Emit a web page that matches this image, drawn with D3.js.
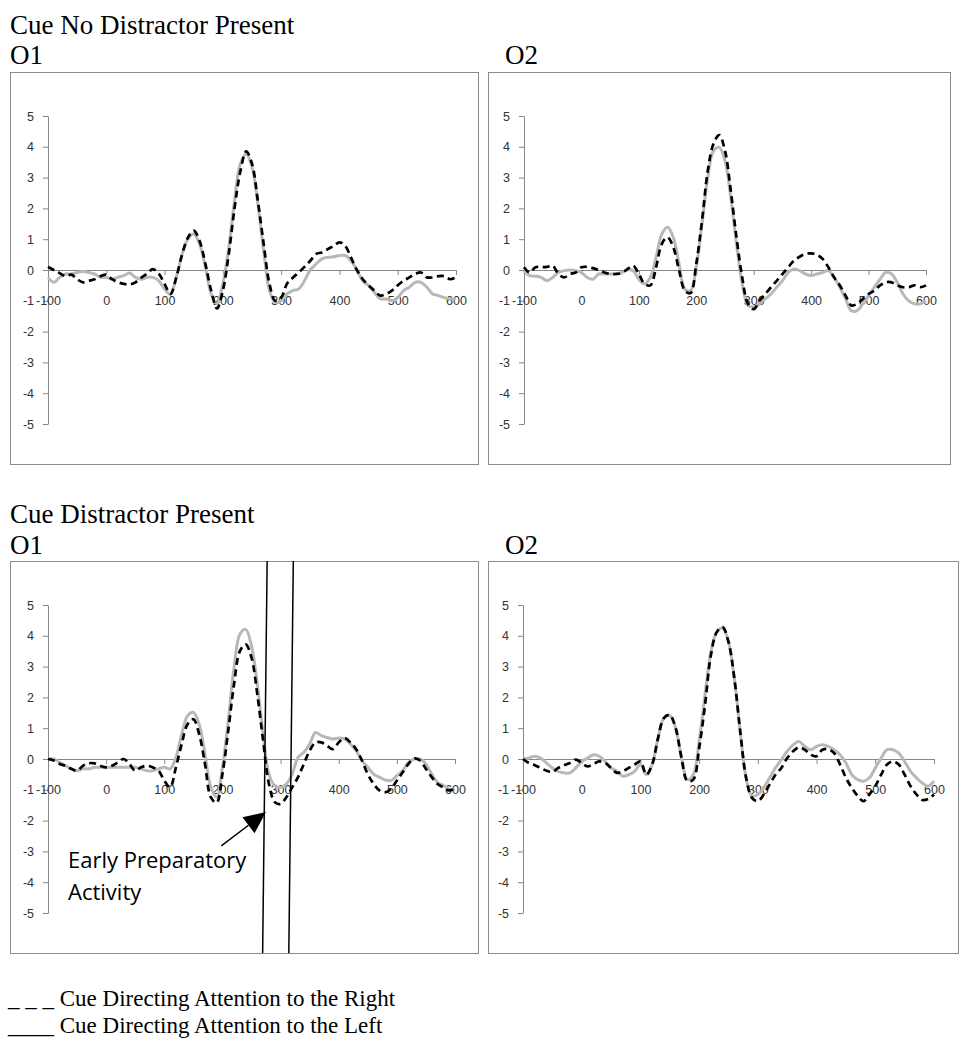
<!DOCTYPE html>
<html>
<head>
<meta charset="utf-8">
<script src="https://cdn.jsdelivr.net/npm/d3@7"></script>
<style>
  html, body { margin: 0; padding: 0; background: #fff; }
  svg { display: block; }
</style>
</head>
<body>
<svg id="chart" width="971" height="1050"></svg>
<script>
// ---------------- DATA ----------------
const times = [-100,-90,-80,-70,-60,-50,-40,-30,-20,-10,0,10,20,30,40,50,60,70,80,90,
  100,110,120,130,140,150,160,170,180,190,200,210,220,230,240,250,260,270,280,290,
  300,310,320,330,340,350,360,370,380,390,400,410,420,430,440,450,460,470,480,490,
  500,510,520,530,540,550,560,570,580,590,600];

const xTicks = [-100, 0, 100, 200, 300, 400, 500, 600];
const yTicks = [-5, -4, -3, -2, -1, 0, 1, 2, 3, 4, 5];

const sectionTitles = ["Cue No Distractor Present", "Cue Distractor Present"];
const channelNames = ["O1", "O2"];
const legendLabels = ["_ _ _ Cue Directing Attention to the Right", "____ Cue Directing Attention to the Left"];
const annotationLines = ["Early Preparatory", "Activity"];

// Cue No Distractor Present, O1
const noDistO1Right = [0.1,0,-0.1,-0.2,-0.15,-0.3,-0.4,-0.35,-0.3,-0.2,-0.15,-0.3,-0.4,-0.45,-0.47,-0.4,-0.25,-0.12,0.03,-0.12,
  -0.45,-0.78,-0.25,0.5,1.05,1.28,0.95,0.2,-0.67,-1.25,-0.67,0.5,2.0,3.2,3.85,3.45,2.25,0.85,-0.45,-1.0,
  -0.9,-0.45,-0.25,-0.08,0.1,0.3,0.52,0.57,0.68,0.78,0.9,0.78,0.4,0,-0.3,-0.5,-0.67,-0.83,-0.78,-0.67,
  -0.5,-0.35,-0.24,-0.13,-0.08,-0.24,-0.24,-0.2,-0.2,-0.3,-0.24];
const noDistO1Left = [-0.24,-0.4,-0.24,-0.13,-0.13,-0.08,-0.05,-0.08,-0.13,-0.24,-0.24,-0.3,-0.24,-0.18,-0.1,-0.24,-0.3,-0.24,-0.24,-0.35,
  -0.62,-0.78,-0.25,0.5,1.0,1.17,0.85,0.1,-0.78,-1.1,-0.45,0.7,2.25,3.45,3.77,3.35,2.15,0.63,-0.67,-1.05,
  -1.0,-0.78,-0.67,-0.62,-0.35,0,0.2,0.36,0.41,0.43,0.47,0.47,0.3,0,-0.35,-0.5,-0.72,-0.94,-0.94,-1.0,
  -0.9,-0.67,-0.56,-0.4,-0.4,-0.56,-0.78,-0.83,-0.9,-0.94,-0.94];

// Cue No Distractor Present, O2
const noDistO2Right = [0.09,-0.08,0.09,0.09,0.1,0.14,-0.13,-0.24,-0.13,-0.08,0.09,0.1,0.06,0,-0.08,-0.13,-0.13,-0.1,0.03,0.14,
  -0.13,-0.45,-0.5,0.09,0.85,1.06,0.74,0,-0.67,-0.75,0.2,1.6,3.22,4.1,4.38,3.87,2.58,1.06,-0.24,-1.1,
  -1.27,-1.0,-0.78,-0.56,-0.35,-0.13,0.09,0.3,0.43,0.52,0.54,0.5,0.36,0.09,-0.24,-0.5,-0.83,-1.15,-1.1,-0.94,
  -0.78,-0.67,-0.5,-0.4,-0.4,-0.5,-0.56,-0.56,-0.5,-0.56,-0.5];
const noDistO2Left = [-0.02,-0.18,-0.2,-0.24,-0.35,-0.24,-0.08,-0.02,0,-0.02,-0.08,-0.24,-0.3,-0.13,-0.13,-0.13,-0.13,-0.08,0,-0.02,
  -0.3,-0.45,-0.24,0.41,1.17,1.39,1.06,0.2,-0.62,-0.67,0.09,1.5,3.0,3.87,3.98,3.55,2.36,0.85,-0.45,-1.15,
  -1.2,-1.1,-0.94,-0.78,-0.56,-0.35,-0.08,0.03,-0.02,-0.13,-0.18,-0.13,-0.08,-0.02,-0.24,-0.56,-0.94,-1.32,-1.32,-1.1,
  -0.83,-0.56,-0.3,-0.08,-0.13,-0.4,-0.78,-1.0,-1.1,-1.1,-1.0];

// Cue Distractor Present, O1
const distO1Right = [0,-0.05,-0.16,-0.22,-0.32,-0.38,-0.22,-0.14,-0.14,-0.22,-0.27,-0.22,-0.11,0,-0.16,-0.38,-0.27,-0.22,-0.27,-0.38,
  -0.7,-0.92,-0.27,0.49,1.13,1.29,0.81,-0.16,-1.24,-1.42,-0.49,0.92,2.43,3.5,3.72,3.29,2.1,0.59,-0.81,-1.4,
  -1.46,-1.24,-0.92,-0.59,-0.16,0.27,0.54,0.54,0.43,0.32,0.54,0.68,0.54,0.32,-0.05,-0.49,-0.81,-1.02,-1.08,-0.97,
  -0.7,-0.43,-0.16,0.02,-0.05,-0.32,-0.59,-0.81,-0.92,-1.02,-0.97];
const distO1Left = [0,0,-0.11,-0.22,-0.32,-0.38,-0.32,-0.32,-0.27,-0.27,-0.27,-0.27,-0.27,-0.27,-0.27,-0.27,-0.32,-0.38,-0.38,-0.32,
  -0.27,-0.32,0.05,0.81,1.4,1.51,1.13,0.16,-0.92,-1.24,-0.27,1.24,2.97,4.05,4.21,3.67,2.43,0.81,-0.49,-0.86,
  -0.92,-0.81,-0.49,0.05,0.22,0.49,0.86,0.76,0.7,0.65,0.68,0.65,0.49,0.27,-0.05,-0.27,-0.49,-0.59,-0.68,-0.7,
  -0.54,-0.38,-0.11,0,0,-0.16,-0.49,-0.76,-0.86,-0.97,-1.02];

// Cue Distractor Present, O2
const distO2Right = [0,-0.13,-0.2,-0.29,-0.38,-0.42,-0.29,-0.2,-0.13,-0.02,-0.13,-0.24,-0.16,-0.08,-0.13,-0.29,-0.45,-0.4,-0.29,-0.18,
  -0.08,-0.51,-0.18,0.68,1.33,1.43,1.0,0.03,-0.72,-0.67,0.35,1.75,3.37,4.12,4.28,3.8,2.61,0.89,-0.61,-1.26,
  -1.37,-1.15,-0.83,-0.51,-0.29,0.03,0.25,0.38,0.3,0.14,0.09,0.3,0.32,0.19,-0.18,-0.61,-0.94,-1.2,-1.37,-1.15,
  -0.88,-0.51,-0.18,-0.08,-0.18,-0.51,-0.88,-1.15,-1.33,-1.3,-1.15];
const distO2Left = [0,0.03,0.09,0.03,-0.13,-0.29,-0.4,-0.45,-0.45,-0.29,-0.08,0.03,0.14,0.09,-0.08,-0.29,-0.4,-0.56,-0.51,-0.4,
  -0.18,-0.51,-0.18,0.68,1.33,1.41,1.0,0.03,-0.67,-0.51,0.57,2.08,3.48,4.12,4.25,3.8,2.61,0.89,-0.61,-1.2,
  -1.15,-0.94,-0.61,-0.29,-0.02,0.25,0.46,0.57,0.41,0.3,0.41,0.46,0.41,0.3,0.14,-0.13,-0.51,-0.67,-0.72,-0.61,
  -0.29,0.03,0.3,0.3,0.19,-0.08,-0.4,-0.61,-0.78,-0.88,-0.72];

// annotation (data units, Cue Distractor Present / O1)
const windowBounds = [273, 318];          // ms
const arrowFrom = [198, -2.82];           // [ms, µV]
const arrowTo = [275, -1.72];

// ---------------- LAYOUT ----------------
const svg = d3.select("#chart");
const serif = "'Liberation Serif', 'Times New Roman', serif";
const sans = "'Liberation Sans', Arial, sans-serif";

const panels = [
  { right: noDistO1Right, left: noDistO1Left, box: [10, 72, 468, 392], xr: [48, 456], yr: [424, 116] },
  { right: noDistO2Right, left: noDistO2Left, box: [488, 72, 462, 392], xr: [524, 926], yr: [424, 116] },
  { right: distO1Right, left: distO1Left, box: [10, 561, 468, 392], xr: [48, 455], yr: [913, 605], annotate: true },
  { right: distO2Right, left: distO2Left, box: [488, 561, 470, 392], xr: [523, 934], yr: [913, 605] }
];

// Section and channel titles
[[sectionTitles[0], 10, 34], [sectionTitles[1], 10, 523],
 [channelNames[0], 10, 64], [channelNames[1], 505, 64],
 [channelNames[0], 10, 554], [channelNames[1], 505, 554]].forEach(([t, x, y]) => {
  svg.append("text").attr("x", x).attr("y", y)
    .attr("font-family", serif).attr("font-size", 27).attr("fill", "#000").text(t);
});

panels.forEach(p => {
  const g = svg.append("g");
  g.append("rect").attr("x", p.box[0] + 0.5).attr("y", p.box[1] + 0.5)
    .attr("width", p.box[2]).attr("height", p.box[3])
    .attr("fill", "none").attr("stroke", "#8c8c8c").attr("stroke-width", 1);

  const x = d3.scaleLinear().domain([-100, 600]).range(p.xr);
  const y = d3.scaleLinear().domain([-5, 5]).range(p.yr);

  // y axis
  const ya = g.append("g").attr("transform", `translate(${x(-100)},0)`)
    .call(d3.axisLeft(y).tickValues(yTicks).tickSize(5).tickSizeOuter(0).tickPadding(9)
      .tickFormat(d => String(d)));
  // x axis at zero
  const xa = g.append("g").attr("transform", `translate(0,${y(0)})`)
    .call(d3.axisBottom(x).tickValues(xTicks).tickSize(5).tickSizeOuter(0).tickPadding(21)
      .tickFormat(d => String(d)));
  [ya, xa].forEach(a => {
    a.select(".domain").attr("stroke", "#868686");
    a.selectAll(".tick line").attr("stroke", "#868686");
    a.selectAll(".tick text").attr("fill", "#333").attr("font-family", sans).attr("font-size", 12.5);
  });

  const line = d3.line().x((d, i) => x(times[i])).y(d => y(d)).curve(d3.curveCatmullRom.alpha(0.5));

  g.append("path").datum(p.left).attr("d", line)
    .attr("fill", "none").attr("stroke", "#b8b8b8").attr("stroke-width", 3)
    .attr("stroke-linejoin", "round");
  g.append("path").datum(p.right).attr("d", line)
    .attr("fill", "none").attr("stroke", "#000").attr("stroke-width", 2.7)
    .attr("stroke-dasharray", "7,4.5");

  if (p.annotate) {
    const top = p.box[1], bottom = p.box[1] + p.box[3];
    const slope = 4.5 / p.box[3];
    windowBounds.forEach(ms => {
      const xc = x(ms), yc = y(0);
      g.append("line")
        .attr("x1", xc + slope * (yc - top)).attr("y1", top)
        .attr("x2", xc - slope * (bottom - yc)).attr("y2", bottom)
        .attr("stroke", "#000").attr("stroke-width", 1.5);
    });
    // arrow
    const x0 = x(arrowFrom[0]), y0 = y(arrowFrom[1]);
    const x1 = x(arrowTo[0]), y1 = y(arrowTo[1]);
    const ang = Math.atan2(y1 - y0, x1 - x0);
    const headLen = 22, headW = 10;
    const bx = x1 - headLen * Math.cos(ang), by = y1 - headLen * Math.sin(ang);
    g.append("line").attr("x1", x0).attr("y1", y0).attr("x2", bx).attr("y2", by)
      .attr("stroke", "#000").attr("stroke-width", 1.5);
    const nx = -Math.sin(ang), ny = Math.cos(ang);
    g.append("path")
      .attr("d", `M${x1},${y1}L${bx + nx * headW},${by + ny * headW}L${bx - nx * headW},${by - ny * headW}Z`)
      .attr("fill", "#000");
    annotationLines.forEach((t, i) => {
      g.append("text").attr("x", 68).attr("y", 868 + i * 32)
        .attr("font-family", "'Open Sans', sans-serif").attr("font-size", 22)
        .attr("fill", "#000").text(t);
    });
  }
});

// Legend
legendLabels.forEach((t, i) => {
  svg.append("text").attr("x", 8).attr("y", 1006 + i * 27)
    .attr("font-family", serif).attr("font-size", 23).attr("fill", "#000")
    .attr("xml:space", "preserve").style("white-space", "pre").text(t);
});
</script>
</body>
</html>
